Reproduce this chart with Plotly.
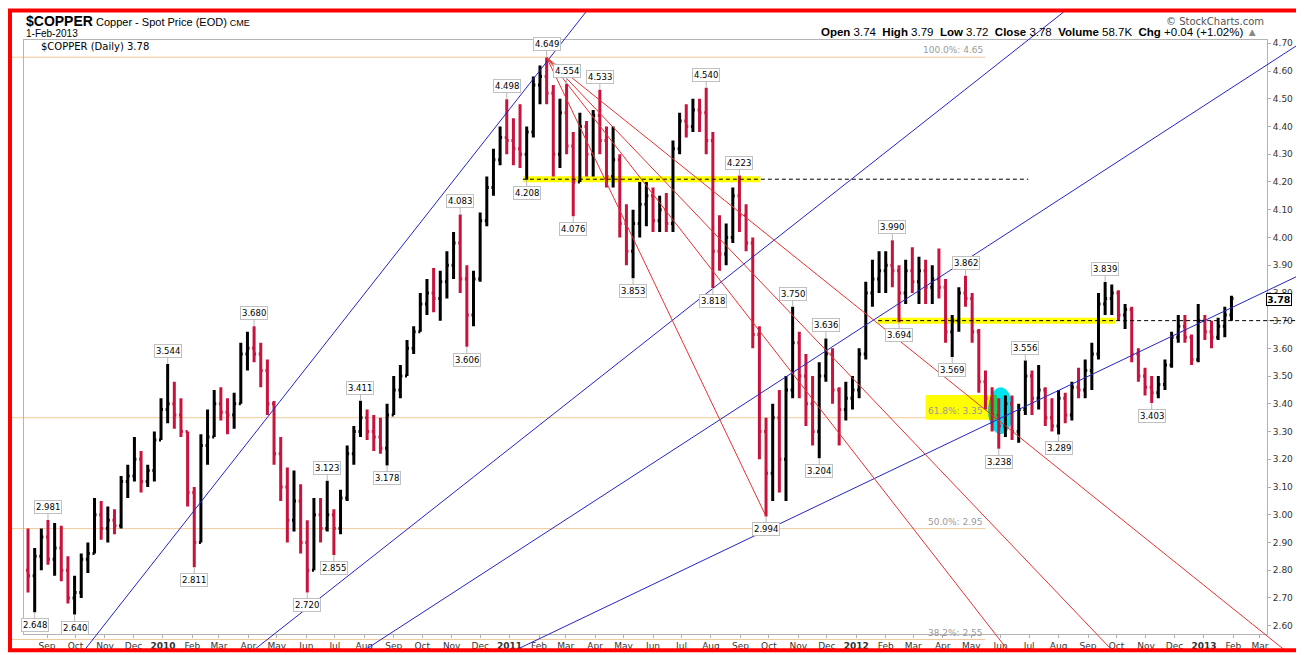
import pandas as pd
import plotly.graph_objects as go

opens = [2.80, 2.78, 2.85, 2.92, 2.84, 2.88, 2.80, 2.70, 2.72, 2.84,
         2.86, 3.00, 2.95, 2.98, 2.96, 3.12, 3.14, 3.20, 3.12, 3.16,
         3.27, 3.38, 3.40, 3.36, 3.30, 3.08, 2.90, 3.25, 3.28, 3.40,
         3.37, 3.36, 3.40, 3.58, 3.60, 3.58, 3.52, 3.40, 3.22, 3.10,
         2.98, 3.05, 2.90, 2.80, 3.00, 2.95, 3.00, 2.95, 3.06, 3.22,
         3.30, 3.35, 3.30, 3.28, 3.24, 3.36, 3.45, 3.50, 3.60, 3.66,
         3.76, 3.80, 3.78, 3.84, 3.90, 3.98, 3.85, 3.72, 3.85, 4.06,
         4.18, 4.28, 4.36, 4.35, 4.32, 4.30, 4.38, 4.55, 4.58, 4.52,
         4.30, 4.45, 4.33, 4.20, 4.40, 4.30, 4.44, 4.35, 4.22, 4.28,
         4.05, 3.95, 4.05, 4.12, 4.15, 4.06, 4.10, 4.05, 4.32, 4.42,
         4.40, 4.46, 4.45, 4.35, 3.95, 3.94, 4.00, 4.15, 4.08, 3.98,
         3.65, 3.30, 3.15, 3.35, 3.20, 3.45, 3.62, 3.50, 3.40, 3.30,
         3.50, 3.58, 3.45, 3.38, 3.42, 3.45, 3.58, 3.80, 3.85, 3.88,
         3.90, 3.88, 3.80, 3.88, 3.84, 3.88, 3.82, 3.85, 3.82, 3.66,
         3.70, 3.80, 3.78, 3.66, 3.48, 3.42, 3.36, 3.32, 3.40, 3.30,
         3.38, 3.50, 3.42, 3.45, 3.35, 3.32, 3.42, 3.36, 3.46, 3.45,
         3.52, 3.58, 3.76, 3.78, 3.80, 3.72, 3.74, 3.58, 3.50, 3.46,
         3.44, 3.47, 3.54, 3.64, 3.68, 3.64, 3.56, 3.70, 3.66, 3.64,
         3.68, 3.72]
highs = [2.95, 2.88, 2.95, 2.981, 2.97, 2.96, 2.85, 2.78, 2.86, 2.90,
         3.06, 3.05, 3.03, 3.02, 3.14, 3.18, 3.28, 3.23, 3.18, 3.30,
         3.42, 3.544, 3.48, 3.42, 3.30, 3.10, 3.29, 3.38, 3.45, 3.46,
         3.42, 3.44, 3.62, 3.66, 3.680, 3.62, 3.56, 3.41, 3.28, 3.17,
         3.16, 3.11, 2.98, 3.06, 3.06, 3.123, 3.02, 3.09, 3.25, 3.32,
         3.411, 3.38, 3.36, 3.35, 3.40, 3.50, 3.54, 3.63, 3.68, 3.80,
         3.85, 3.89, 3.88, 3.95, 4.02, 4.083, 3.90, 3.88, 4.09, 4.22,
         4.32, 4.40, 4.498, 4.43, 4.48, 4.40, 4.58, 4.62, 4.649, 4.55,
         4.50, 4.554, 4.38, 4.45, 4.42, 4.46, 4.533, 4.40, 4.40, 4.30,
         4.12, 4.10, 4.20, 4.20, 4.18, 4.15, 4.16, 4.35, 4.45, 4.48,
         4.50, 4.50, 4.540, 4.38, 4.08, 4.05, 4.18, 4.223, 4.12, 4.00,
         3.68, 3.35, 3.40, 3.45, 3.50, 3.750, 3.66, 3.58, 3.50, 3.55,
         3.636, 3.60, 3.46, 3.48, 3.50, 3.60, 3.84, 3.92, 3.95, 3.95,
         3.990, 3.90, 3.92, 3.965, 3.93, 3.92, 3.90, 3.96, 3.85, 3.72,
         3.82, 3.862, 3.80, 3.67, 3.52, 3.46, 3.42, 3.43, 3.43, 3.40,
         3.556, 3.52, 3.54, 3.46, 3.42, 3.45, 3.44, 3.48, 3.53, 3.56,
         3.62, 3.80, 3.839, 3.83, 3.81, 3.76, 3.75, 3.60, 3.53, 3.50,
         3.50, 3.56, 3.66, 3.72, 3.72, 3.65, 3.76, 3.72, 3.70, 3.71,
         3.75, 3.79]
lows = [2.72, 2.648, 2.80, 2.82, 2.78, 2.76, 2.68, 2.640, 2.70, 2.79,
        2.86, 2.91, 2.90, 2.93, 2.95, 3.06, 3.12, 3.08, 3.10, 3.12,
        3.27, 3.33, 3.31, 3.28, 3.03, 2.811, 2.90, 3.18, 3.28, 3.34,
        3.29, 3.31, 3.40, 3.52, 3.55, 3.46, 3.36, 3.18, 3.05, 2.90,
        2.94, 2.86, 2.720, 2.80, 2.90, 2.94, 2.855, 2.93, 3.05, 3.18,
        3.28, 3.27, 3.23, 3.22, 3.178, 3.36, 3.42, 3.50, 3.58, 3.66,
        3.72, 3.73, 3.70, 3.78, 3.85, 3.80, 3.606, 3.68, 3.84, 4.04,
        4.15, 4.26, 4.30, 4.26, 4.25, 4.208, 4.36, 4.48, 4.48, 4.22,
        4.25, 4.30, 4.076, 4.20, 4.22, 4.22, 4.30, 4.18, 4.18, 4.00,
        3.90, 3.853, 4.00, 4.04, 4.02, 4.02, 4.02, 4.02, 4.30, 4.36,
        4.38, 4.38, 4.30, 3.818, 3.88, 3.90, 3.98, 4.02, 3.95, 3.60,
        3.20, 2.994, 3.05, 3.08, 3.05, 3.42, 3.42, 3.32, 3.25, 3.204,
        3.48, 3.40, 3.25, 3.34, 3.38, 3.42, 3.56, 3.75, 3.80, 3.80,
        3.82, 3.694, 3.76, 3.80, 3.76, 3.76, 3.76, 3.78, 3.62, 3.569,
        3.66, 3.75, 3.62, 3.44, 3.38, 3.30, 3.238, 3.28, 3.27, 3.26,
        3.36, 3.36, 3.38, 3.32, 3.30, 3.289, 3.33, 3.34, 3.42, 3.42,
        3.45, 3.56, 3.72, 3.72, 3.70, 3.67, 3.55, 3.48, 3.43, 3.403,
        3.42, 3.45, 3.53, 3.62, 3.62, 3.54, 3.55, 3.63, 3.60, 3.63,
        3.64, 3.70]
closes = [2.78, 2.85, 2.92, 2.84, 2.88, 2.80, 2.70, 2.72, 2.84, 2.86,
          3.00, 2.95, 2.98, 2.96, 3.12, 3.14, 3.20, 3.12, 3.16, 3.27,
          3.38, 3.40, 3.36, 3.30, 3.08, 2.90, 3.25, 3.28, 3.40, 3.37,
          3.36, 3.40, 3.58, 3.60, 3.58, 3.52, 3.40, 3.22, 3.10, 2.98,
          3.05, 2.90, 2.80, 3.00, 2.95, 3.00, 2.95, 3.06, 3.22, 3.30,
          3.35, 3.30, 3.28, 3.24, 3.36, 3.45, 3.50, 3.60, 3.66, 3.76,
          3.80, 3.78, 3.84, 3.90, 3.98, 3.85, 3.72, 3.85, 4.06, 4.18,
          4.28, 4.36, 4.35, 4.32, 4.30, 4.38, 4.55, 4.58, 4.52, 4.30,
          4.45, 4.33, 4.20, 4.40, 4.30, 4.44, 4.35, 4.22, 4.28, 4.05,
          3.95, 4.05, 4.12, 4.15, 4.06, 4.10, 4.05, 4.32, 4.42, 4.40,
          4.46, 4.45, 4.35, 3.95, 3.94, 4.00, 4.15, 4.08, 3.98, 3.65,
          3.30, 3.15, 3.35, 3.20, 3.45, 3.62, 3.50, 3.40, 3.30, 3.50,
          3.58, 3.45, 3.38, 3.42, 3.45, 3.58, 3.80, 3.85, 3.88, 3.90,
          3.88, 3.80, 3.88, 3.84, 3.88, 3.82, 3.85, 3.82, 3.66, 3.70,
          3.80, 3.78, 3.66, 3.48, 3.42, 3.36, 3.32, 3.40, 3.30, 3.38,
          3.50, 3.42, 3.45, 3.35, 3.32, 3.42, 3.36, 3.46, 3.45, 3.52,
          3.58, 3.76, 3.78, 3.80, 3.72, 3.74, 3.58, 3.50, 3.46, 3.44,
          3.47, 3.54, 3.64, 3.68, 3.64, 3.56, 3.70, 3.66, 3.64, 3.68,
          3.72, 3.78]
dates = pd.date_range('2009-08-12', periods=len(opens), freq='7D')

# weeks that carry a price label
high_label_weeks = [3, 21, 34, 45, 50, 65, 72, 78, 81, 86, 102, 107, 115, 120, 130, 141, 150, 162]
low_label_weeks = [1, 7, 25, 42, 46, 54, 66, 75, 82, 91, 103, 111, 119, 131, 139, 146, 155, 169]

# retracement levels
fib_levels = [4.65, 3.35, 2.95, 2.55]
fib_names = ['100.0%: 4.65', '61.8%: 3.35', '50.0%: 2.95', '38.2%: 2.55']

# hand-drawn trendlines (two anchor points each)
blue_lines = [
    (('2009-11-01', 2.606), ('2011-02-01', 4.598)),
    (('2010-11-01', 3.074), ('2012-06-01', 4.634)),
    (('2011-01-01', 2.851), ('2012-12-01', 4.406)),
    (('2011-06-01', 2.749), ('2013-01-01', 3.699)),
]
fan_targets = [('2012-02-25', 2.972), ('2012-06-09', 2.904), ('2013-01-06', 2.732)]

y_ticks = [2.60, 2.70, 2.80, 2.90, 3.00, 3.10, 3.20, 3.30, 3.40, 3.50, 3.60,
           3.70, 3.80, 3.90, 4.00, 4.10, 4.20, 4.30, 4.40, 4.50, 4.60, 4.70]
month_ticks = pd.date_range('2009-09-01', '2013-03-01', freq='MS')
month_text = ['<b>%d</b>' % d.year if d.month == 1 else d.strftime('%b') for d in month_ticks]

X_RANGE = ['2009-08-07 18:00', '2013-03-08 10:00']
Y_RANGE = [2.570, 4.712]

W, H = 1304, 655
ML, MR, MT, MB = 16, 45, 32, 19
PW, PH = W - ML - MR, H - MT - MB

X0, X1 = pd.Timestamp(X_RANGE[0]), pd.Timestamp(X_RANGE[1])


def px(d):
    return (pd.Timestamp(d) - X0) / (X1 - X0)


def py(p):
    return (p - Y_RANGE[0]) / (Y_RANGE[1] - Y_RANGE[0])


def pix_x(x):
    return (x - ML) / PW


def pix_y(y):
    return (H - MB - y) / PH


# inner edge of the red frame, in paper units
FX0, FX1 = pix_x(3), pix_x(1300)
FY0, FY1 = pix_y(651), pix_y(3)


def clip(a, b, ray=False):
    x1, y1 = a
    x2, y2 = b
    dx, dy = x2 - x1, y2 - y1
    t0, t1 = (0.0 if ray else -1e9), 1e9
    for p, q in ((-dx, x1 - FX0), (dx, FX1 - x1), (-dy, y1 - FY0), (dy, FY1 - y1)):
        if p == 0:
            continue
        t = q / p
        if p < 0:
            t0 = max(t0, t)
        else:
            t1 = min(t1, t)
    return (x1 + t0 * dx, y1 + t0 * dy), (x1 + t1 * dx, y1 + t1 * dy)


def seg(a, b, color, width=1, dash=None, layer='above'):
    return dict(type='line', xref='paper', yref='paper', x0=a[0], y0=a[1], x1=b[0], y1=b[1],
                line=dict(color=color, width=width, dash=dash), layer=layer)


fig = go.Figure()

fig.add_trace(go.Ohlc(
    x=dates, open=opens, high=highs, low=lows, close=closes,
    increasing=dict(line=dict(color='#000000', width=3)),
    decreasing=dict(line=dict(color='#c8143c', width=3)),
    tickwidth=0.3, hoverinfo='skip', showlegend=False
))

shapes = []
YELLOW = '#ffff00'
BLUE = '#2424c8'
RED = '#e43232'

# fib lines and labels
annotations = []
fib_end = px('2012-05-16')
for lvl, name in zip(fib_levels, fib_names):
    shapes.append(seg((FX0, py(lvl)), (fib_end, py(lvl)), '#f2c99a', 1, layer='below'))
    annotations.append(dict(x=fib_end, y=py(lvl), xref='paper', yref='paper', text=name,
                            xanchor='right', yanchor='bottom', showarrow=False,
                            font=dict(family='DejaVu Sans', size=9, color='#9a9a9a')))

# yellow highlights
shapes.append(seg((px('2011-01-15'), py(4.21)), (px('2011-09-22'), py(4.21)), YELLOW, 6, layer='below'))
shapes.append(seg((px('2012-01-24'), py(3.70)), (px('2012-09-30'), py(3.70)), YELLOW, 6, layer='below'))
rx0, rx1, ry0, ry1 = px('2012-03-14'), px('2012-05-28'), py(3.343), py(3.432)
shapes.append(dict(type='rect', xref='paper', yref='paper', x0=rx0, x1=rx1, y0=ry0, y1=ry1,
                   fillcolor=YELLOW, line=dict(width=0), layer='below'))

# cyan ellipse round the June 2012 low, green where it meets the yellow box
ex0, ex1, ey0, ey1 = px('2012-05-19'), px('2012-06-14'), py(3.29), py(3.46)
shapes.append(dict(type='circle', xref='paper', yref='paper', x0=ex0, x1=ex1, y0=ey0, y1=ey1,
                   fillcolor='#00e4f0', line=dict(width=0), layer='below'))
cx, cy, erx, ery = (ex0 + ex1) / 2, (ey0 + ey1) / 2, (ex1 - ex0) / 2, (ey1 - ey0) / 2
left_pts, right_pts = [], []
for i in range(21):
    yy = ry0 + (ry1 - ry0) * i / 20
    r = max(0.0, 1 - ((yy - cy) / ery) ** 2) ** 0.5
    xl, xr = max(cx - erx * r, rx0), min(cx + erx * r, rx1)
    if xl < xr:
        left_pts.append((xl, yy))
        right_pts.append((xr, yy))
if left_pts:
    pts = left_pts + right_pts[::-1]
    path = 'M ' + ' L '.join('%.6f,%.6f' % p for p in pts) + ' Z'
    shapes.append(dict(type='path', xref='paper', yref='paper', path=path,
                       fillcolor='#22cc3c', line=dict(width=0), layer='below'))

# dashed support / resistance lines
shapes.append(seg((px('2011-01-15'), py(4.21)), (px('2012-06-30'), py(4.21)), '#000000', 1, '4px,3px'))
shapes.append(seg((px('2012-01-24'), py(3.70)), (FX1, py(3.70)), '#000000', 1, '4px,3px'))

# blue trendlines, clipped to the frame
for a, b in blue_lines:
    p, q = clip((px(a[0]), py(a[1])), (px(b[0]), py(b[1])))
    shapes.append(seg(p, q, BLUE, 1))

# red fan from the February 2011 top
peak = highs.index(max(highs))
apex = (px(dates[peak]), py(highs[peak]))
low_wk = lows.index(min(lows[peak:]))
shapes.append(seg(apex, (px(dates[low_wk]), py(lows[low_wk])), RED, 1))
for d, p in fan_targets:
    a, b = clip(apex, (px(d), py(p)), ray=True)
    shapes.append(seg(a, b, RED, 1))

# red frame round the whole picture
shapes.append(dict(type='rect', xref='paper', yref='paper',
                   x0=pix_x(2), x1=pix_x(1302), y0=pix_y(652.5), y1=pix_y(2),
                   line=dict(color='#ff0000', width=4), layer='above'))

# price labels at swing highs / lows
lab_font = dict(family='DejaVu Sans', size=8.5, color='#000000')
for k in high_label_weeks:
    annotations.append(dict(x=dates[k], y=highs[k], text='%.3f' % highs[k], showarrow=True,
                            arrowhead=0, arrowwidth=1, arrowcolor='#b8b8b8', ax=0, ay=-13,
                            standoff=0, bgcolor='white', bordercolor='#c0c0c0', borderwidth=1,
                            borderpad=1, font=lab_font))
for k in low_label_weeks:
    annotations.append(dict(x=dates[k], y=lows[k], text='%.3f' % lows[k], showarrow=True,
                            arrowhead=0, arrowwidth=1, arrowcolor='#b8b8b8', ax=0, ay=13,
                            standoff=0, bgcolor='white', bordercolor='#c0c0c0', borderwidth=1,
                            borderpad=1, font=lab_font))

# last price tag on the axis
annotations.append(dict(x=pix_x(1258), y=closes[-1], xref='paper', yref='y', xanchor='left',
                        yshift=-1, text='<b>%.2f</b>' % closes[-1], showarrow=False,
                        bgcolor='white', bordercolor='#000000', borderwidth=1, borderpad=0,
                        font=dict(family='DejaVu Sans', size=9.5, color='#000000')))

# header texts
annotations += [
    dict(x=0, y=pix_y(13), xref='paper', yref='paper', xanchor='left', yanchor='middle',
         showarrow=False,
         text="<span style='font-size:14px'><b>$COPPER</b></span> Copper - Spot Price (EOD) "
              "<span style='font-size:9px'>CME</span>",
         font=dict(family='Liberation Sans', size=11, color='#000000')),
    dict(x=0, y=pix_y(25.5), xref='paper', yref='paper', xanchor='left', yanchor='middle',
         showarrow=False, text='1-Feb-2013',
         font=dict(family='Liberation Sans', size=10, color='#000000')),
    dict(x=pix_x(1258), y=pix_y(13), xref='paper', yref='paper', xanchor='right', yanchor='middle',
         showarrow=False, text='© StockCharts.com',
         font=dict(family='DejaVu Sans', size=10, color='#555555')),
    dict(x=pix_x(1252), y=pix_y(24), xref='paper', yref='paper', xanchor='right', yanchor='middle',
         showarrow=False,
         text='<b>Open</b> 3.74&nbsp; <b>High</b> 3.79&nbsp; <b>Low</b> 3.72&nbsp; '
              '<b>Close</b> 3.78&nbsp; <b>Volume</b> 58.7K&nbsp; <b>Chg</b> +0.04 (+1.02%) '
              "<span style='color:#888888'>▲</span>",
         font=dict(family='Liberation Sans', size=11.5, color='#000000')),
    dict(x=pix_x(31), y=pix_y(39), xref='paper', yref='paper', xanchor='left', yanchor='middle',
         showarrow=False, text='$COPPER (Daily) 3.78',
         font=dict(family='DejaVu Sans', size=10, color='#000000')),
]

fig.update_layout(
    width=W, height=H,
    margin=dict(l=ML, r=MR, t=MT, b=MB),
    paper_bgcolor='white', plot_bgcolor='rgba(0,0,0,0)',
    showlegend=False,
    shapes=shapes,
    annotations=annotations,
    xaxis=dict(type='date', range=X_RANGE, rangeslider=dict(visible=False),
               tickvals=month_ticks, ticktext=month_text, ticks='outside', ticklen=3,
               tickcolor='#b0b0b0', showgrid=False, zeroline=False,
               showline=True, linecolor='#b4b4b4', linewidth=1, mirror=True,
               tickfont=dict(family='DejaVu Sans', size=9, color='#333333')),
    yaxis=dict(range=Y_RANGE, side='right', tickvals=y_ticks,
               ticktext=['%.2f' % v for v in y_ticks], ticks='outside', ticklen=3,
               tickcolor='#b0b0b0', showgrid=False, zeroline=False,
               showline=True, linecolor='#b4b4b4', linewidth=1, mirror=True,
               tickfont=dict(family='DejaVu Sans', size=9, color='#333333')),
)

fig.write_html("out.html")
